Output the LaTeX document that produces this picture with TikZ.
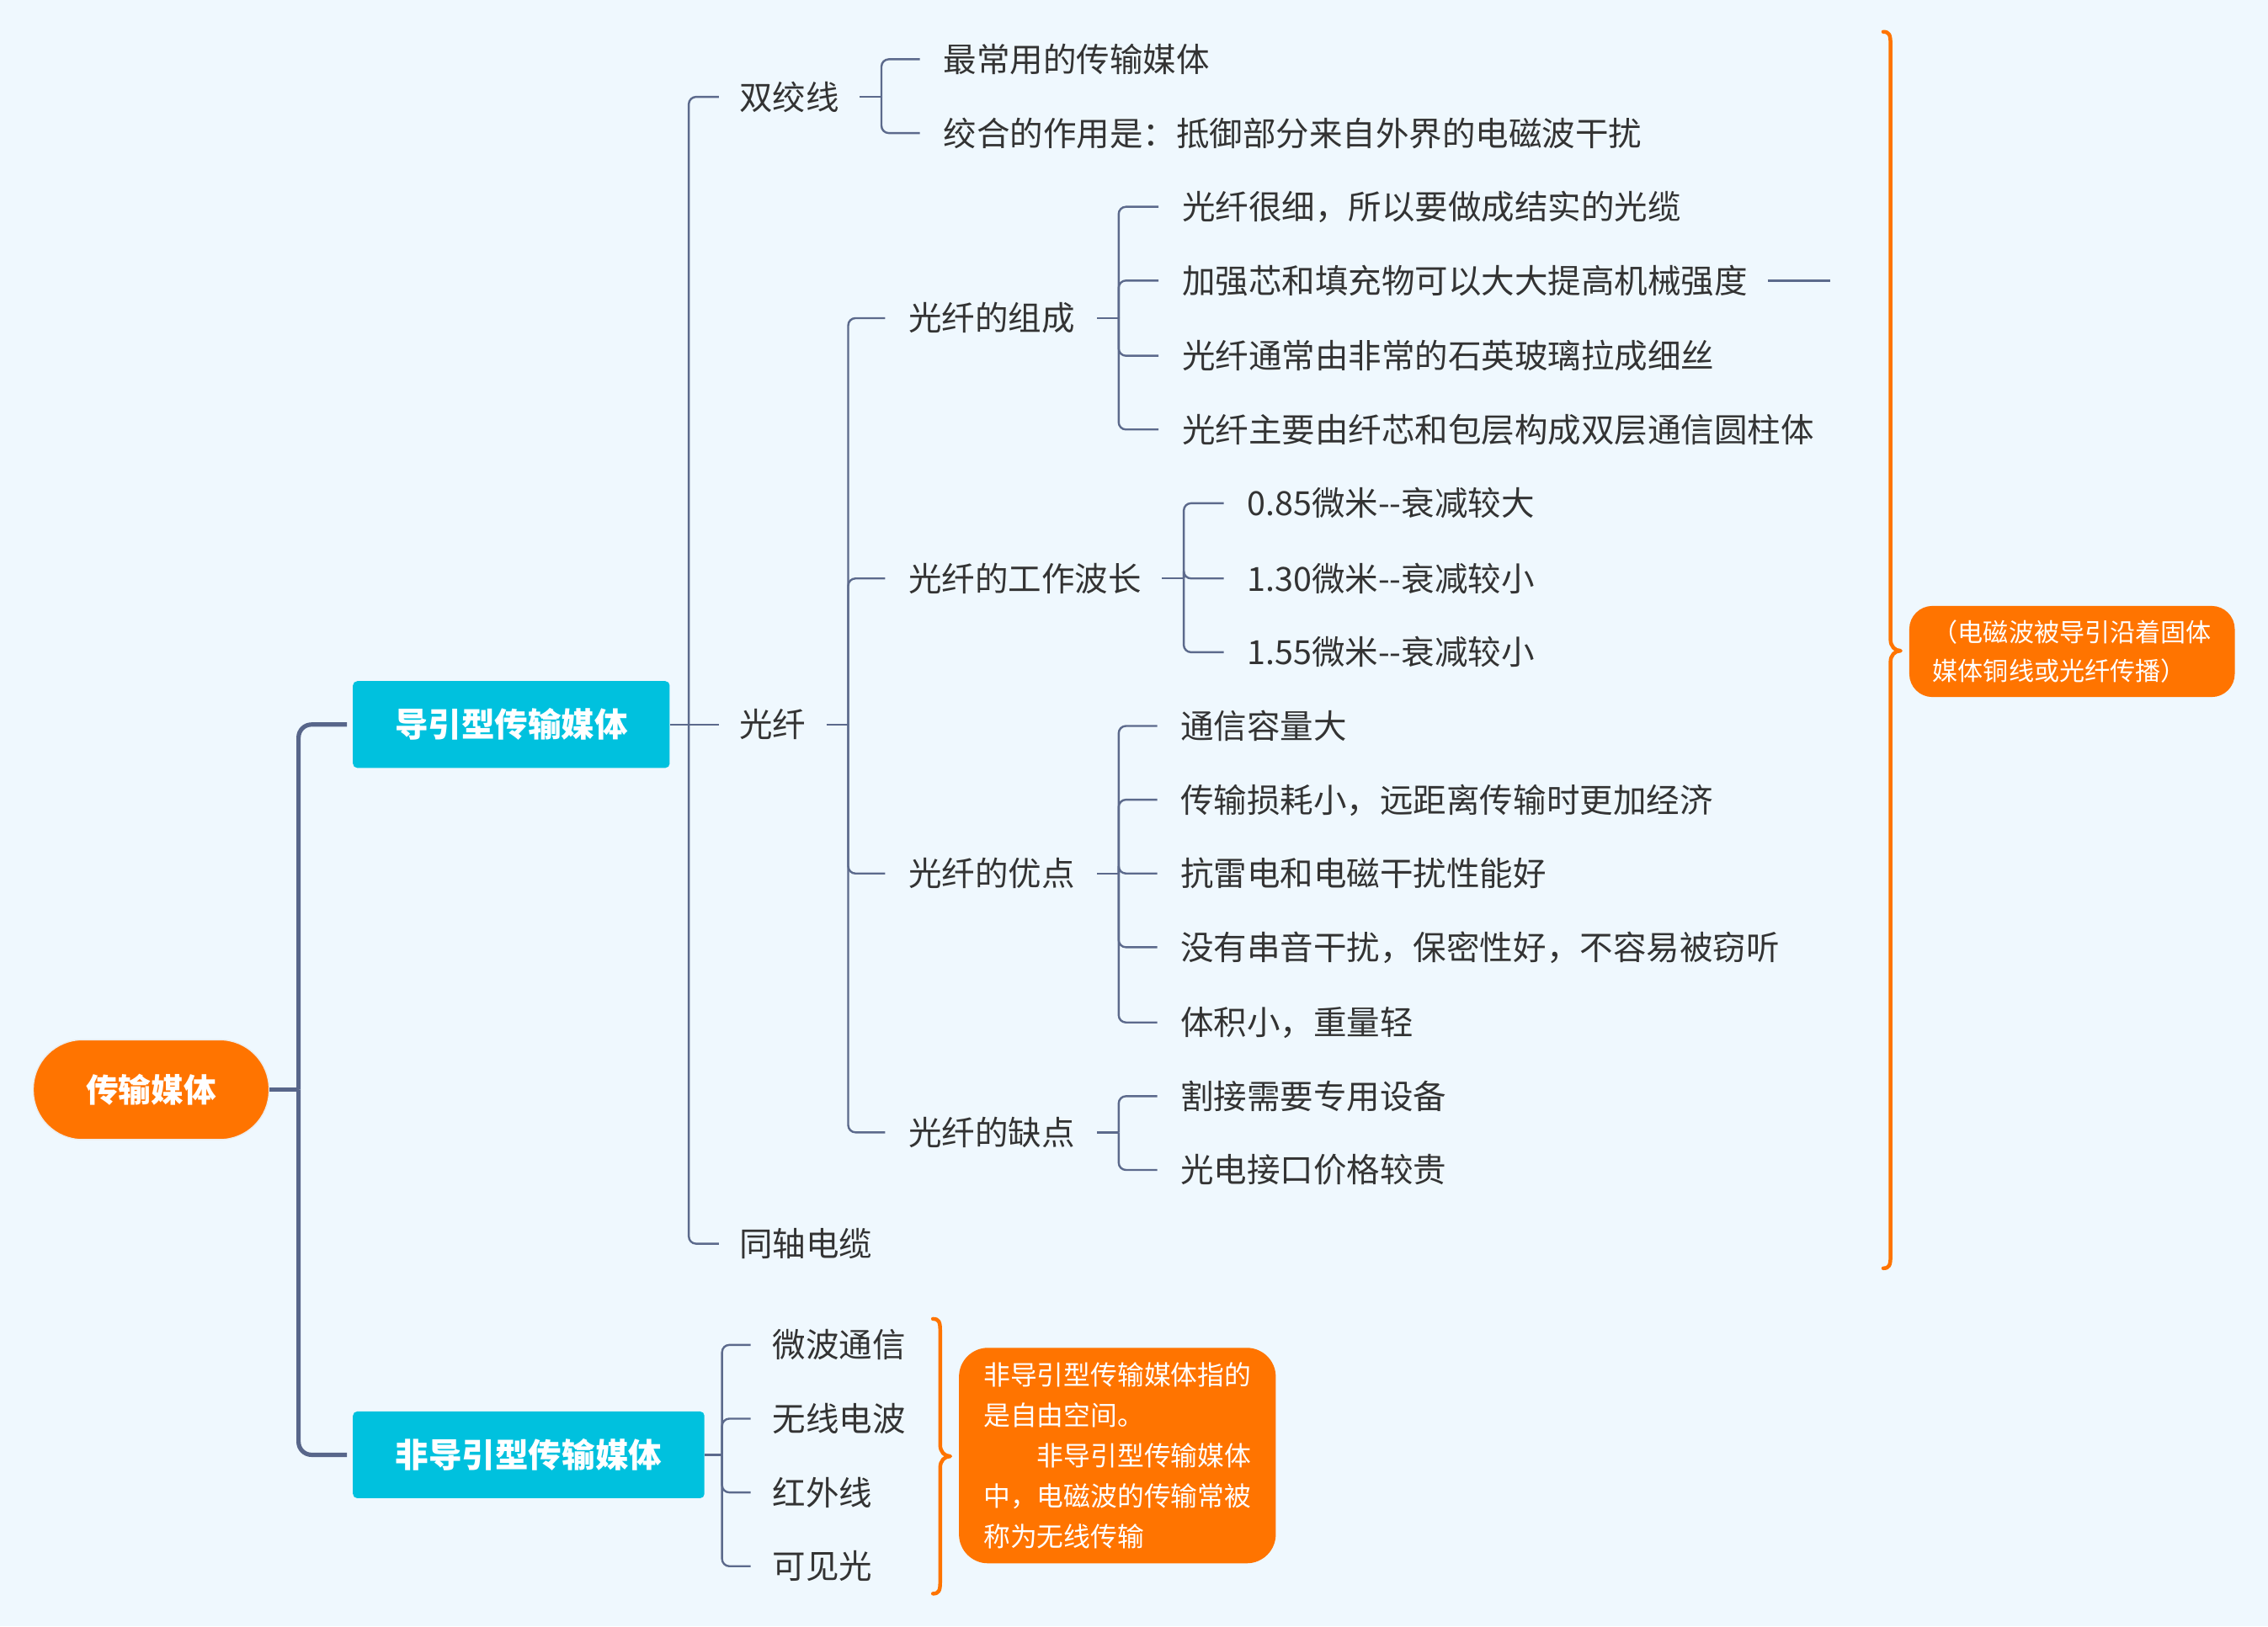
\documentclass[tikz,border=0pt]{standalone}
\usepackage{fontspec}
\setmainfont{Noto Sans CJK SC}
\usetikzlibrary{calc}
\definecolor{bgC}{RGB}{239,248,254}
\definecolor{lineC}{RGB}{92,106,140}
\definecolor{mainC}{RGB}{88,102,138}
\definecolor{orangeC}{RGB}{255,116,0}
\definecolor{cyanC}{RGB}{0,193,222}
\definecolor{txtC}{RGB}{51,51,51}
\begin{document}
\begin{tikzpicture}[x=1pt,y=-1pt,
  lbl/.style={anchor=west, inner sep=0pt, text=txtC, font=\fontsize{23}{28}\selectfont, text height=20.2pt, text depth=2.8pt},
  conn/.style={draw=lineC, line width=1.4pt, rounded corners=5pt},
  mainconn/.style={draw=mainC, line width=3pt, rounded corners=9pt},
  topic/.style={fill=cyanC, text=white, rounded corners=3pt, font=\fontsize{23}{28}\selectfont\bfseries, inner sep=0pt, text height=20.2pt, text depth=2.8pt},
  bracestyle/.style={draw=orangeC, line width=2.6pt, line cap=round, line join=round},
  callout/.style={fill=orangeC, text=white, align=left, inner sep=0pt}
]
\fill[bgC] (0,0) rectangle (1568,1124.5);
\useasboundingbox (0,0) rectangle (1568,1124.5);

% root and main topics
\node[fill=orangeC, draw=white!85!gray, line width=0.8pt, rounded corners=34pt, minimum width=163pt, minimum height=69pt, text=white, font=\fontsize{22.5}{27}\selectfont\bfseries, inner sep=0pt, text height=19.8pt, text depth=2.7pt] (root) at (104.5,753.5) {传输媒体};
\node[topic, minimum width=219pt, minimum height=60pt] (g) at (353.5,501) {导引型传输媒体};
\node[topic, minimum width=243pt, minimum height=60pt] (ng) at (365.5,1006) {非导引型传输媒体};

% level 2 (guided)
\node[lbl] (sj) at (511,67) {双绞线};
\node[lbl] (gx) at (511,501) {光纤};
\node[lbl] (tz) at (511,860) {同轴电缆};

\node[lbl] (zz1) at (652,41) {最常用的传输媒体};
\node[lbl] (zz2) at (652,92) {绞合的作用是：抵御部分来自外界的电磁波干扰};

\node[lbl] (zc) at (628,220) {光纤的组成};
\node[lbl] (bc) at (628,400) {光纤的工作波长};
\node[lbl] (yd) at (628,604) {光纤的优点};
\node[lbl] (qd) at (628,783) {光纤的缺点};

\node[lbl] (zc1) at (817,143) {光纤很细，所以要做成结实的光缆};
\node[lbl] (zc2) at (817,194) {加强芯和填充物可以大大提高机械强度};
\node[lbl] (zc3) at (817,246) {光纤通常由非常的石英玻璃拉成细丝};
\node[lbl] (zc4) at (817,297) {光纤主要由纤芯和包层构成双层通信圆柱体};

\node[lbl] (bc1) at (862,348) {0.85微米-\kern0pt-衰减较大};
\node[lbl] (bc2) at (862,400) {1.30微米-\kern0pt-衰减较小};
\node[lbl] (bc3) at (862,451) {1.55微米-\kern0pt-衰减较小};

\node[lbl] (yd1) at (816,502) {通信容量大};
\node[lbl] (yd2) at (816,553) {传输损耗小，远距离传输时更加经济};
\node[lbl] (yd3) at (816,604) {抗雷电和电磁干扰性能好};
\node[lbl] (yd4) at (816,655) {没有串音干扰，保密性好，不容易被窃听};
\node[lbl] (yd5) at (816,707) {体积小，重量轻};

\node[lbl] (qd1) at (816,758) {割接需要专用设备};
\node[lbl] (qd2) at (816,809) {光电接口价格较贵};

% unguided
\node[lbl] (wb) at (534,930) {微波通信};
\node[lbl] (wx) at (534,981) {无线电波};
\node[lbl] (hw) at (534,1032) {红外线};
\node[lbl] (kj) at (534,1083) {可见光};

% callouts
\node[callout, rounded corners=16pt, minimum width=225pt, minimum height=63pt, font=\fontsize{17.5}{27}\selectfont] (c1) at (1432.5,450.5) {（电磁波被导引沿着固体\\媒体铜线或光纤传播）};
\node[callout, rounded corners=20pt, minimum width=219pt, minimum height=149pt, font=\fontsize{18.5}{28}\selectfont] (c2) at (772.5,1006.5) {非导引型传输媒体指的\\是自由空间。\\\hspace*{2em}非导引型传输媒体\\中，电磁波的传输常被\\称为无线传输};

% main connectors
\draw[mainconn] (root.east) -- ([xshift=20pt]root.east);
\draw[mainconn] ([xshift=20pt]root.east) |- ([xshift=-4pt]g.west);
\draw[mainconn] ([xshift=20pt]root.east) |- ([xshift=-4pt]ng.west);

% guided bus
\draw[conn] (g.east) -- ([xshift=-14pt]gx.west);
\foreach \c in {sj,tz} \draw[conn] ([xshift=13pt]g.east) |- ([xshift=-14pt]\c.west);

% twisted pair
\draw[conn] ([xshift=14pt]sj.east) -- ([xshift=29pt]sj.east);
\foreach \c in {zz1,zz2} \draw[conn] ([xshift=29pt]sj.east) |- ([xshift=-16pt]\c.west);

% fibre
\draw[conn] ([xshift=14pt]gx.east) -- ([xshift=29pt]gx.east);
\foreach \c in {zc,bc,yd,qd} \draw[conn] ([xshift=29pt]gx.east) |- ([xshift=-16pt]\c.west);

\draw[conn] ([xshift=15pt]zc.east) -- ([xshift=30pt]zc.east);
\foreach \c in {zc1,zc2,zc3,zc4} \draw[conn] ([xshift=30pt]zc.east) |- ([xshift=-16pt]\c.west);

\draw[conn] ([xshift=14pt]bc.east) -- ([xshift=29pt]bc.east);
\foreach \c in {bc1,bc2,bc3} \draw[conn] ([xshift=29pt]bc.east) |- ([xshift=-16pt]\c.west);

\draw[conn] ([xshift=15pt]yd.east) -- ([xshift=30pt]yd.east);
\foreach \c in {yd1,yd2,yd3,yd4,yd5} \draw[conn] ([xshift=30pt]yd.east) |- ([xshift=-16pt]\c.west);

\draw[conn] ([xshift=15pt]qd.east) -- ([xshift=30pt]qd.east);
\foreach \c in {qd1,qd2} \draw[conn] ([xshift=30pt]qd.east) |- ([xshift=-16pt]\c.west);

\draw[conn] ([xshift=14pt]zc2.east) -- ([xshift=57pt]zc2.east);

% unguided
\draw[conn] (ng.east) -- ([xshift=12pt]ng.east);
\foreach \c in {wb,wx,hw,kj} \draw[conn] ([xshift=12pt]ng.east) |- ([xshift=-15pt]\c.west);

% summary braces
\draw[bracestyle] (1302,22) .. controls (1306,22) and (1307,24) .. (1307,30) -- (1307,442) .. controls (1307,447) and (1310,450) .. (1314,450) .. controls (1310,450) and (1307,453) .. (1307,458) -- (1307,869) .. controls (1307,875) and (1306,877) .. (1302,877);
\draw[bracestyle] (645,912) .. controls (649,912) and (650,914) .. (650,920) -- (650,999) .. controls (650,1004) and (653,1007) .. (657,1007) .. controls (653,1007) and (650,1010) .. (650,1015) -- (650,1094) .. controls (650,1100) and (649,1102) .. (645,1102);
\end{tikzpicture}
\end{document}
